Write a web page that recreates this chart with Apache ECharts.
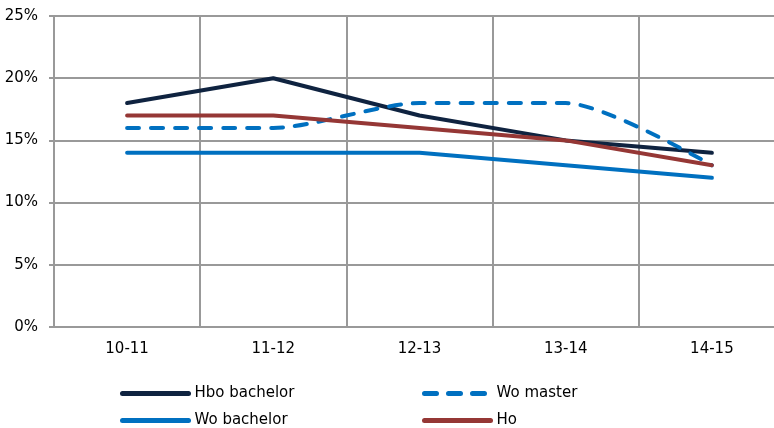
<!DOCTYPE html>
<html>
<head>
<meta charset="utf-8">
<script src="https://cdn.jsdelivr.net/npm/echarts@6/dist/echarts.min.js"></script>
<style>
  html, body { margin: 0; padding: 0; background: #fff; overflow: hidden; }
  #chart { width: 785px; height: 428px; }
</style>
</head>
<body>
<div id="chart"></div>
<script>
// Academic years on the x axis
const years = ['10-11', '11-12', '12-13', '13-14', '14-15'];
// Percentages per programme type
const hboBachelor = [18, 20, 17, 15, 14];
const woMaster = [16, 16, 18, 18, 13];
const woBachelor = [14, 14, 14, 13, 12];
const ho = [17, 17, 16, 15, 13];

const FONT = 'DejaVu Sans';
const GRID = '#999999';

const chart = echarts.init(document.getElementById('chart'));

function lineSeries(name, data, color, dashed, smooth) {
  return {
    name: name,
    type: 'line',
    data: data,
    symbol: 'none',
    smooth: smooth,
    lineStyle: { color: color, width: 4, type: dashed ? [12, 12] : 'solid', cap: 'round', join: 'round' },
    itemStyle: { color: color },
    z: 3
  };
}

// one legend block per entry, laid out in two columns
function legendItem(name, left, top) {
  return {
    data: [name],
    left: left,
    top: top,
    itemWidth: 66,
    itemHeight: 10,
    itemGap: 0,
    padding: 0,
    itemStyle: { opacity: 0 },
    lineStyle: { width: 5, cap: 'round' },
    textStyle: { fontFamily: FONT, fontSize: 15, color: '#000', padding: [0, 0, 0, 1] }
  };
}

chart.setOption({
  animation: false,
  grid: { left: 54, top: 16, right: 0, bottom: 101, containLabel: false },
  legend: [
    legendItem('Hbo bachelor', 120, 386),
    legendItem('Wo bachelor', 120, 413),
    legendItem('Wo master', 422, 386),
    legendItem('Ho', 422, 413)
  ],
  xAxis: {
    type: 'category',
    data: years,
    boundaryGap: true,
    axisLine: { lineStyle: { color: GRID, width: 2 } },
    axisTick: { show: false },
    axisLabel: { fontFamily: FONT, fontSize: 15, color: '#000', margin: 15 },
    splitLine: { show: true, lineStyle: { color: GRID, width: 2 } }
  },
  yAxis: {
    type: 'value',
    min: 0,
    max: 25,
    interval: 5,
    axisLine: { show: true, lineStyle: { color: GRID, width: 2 } },
    axisTick: { show: true, length: 5, inside: false, lineStyle: { color: GRID, width: 2 } },
    axisLabel: { fontFamily: FONT, fontSize: 15, color: '#000', margin: 16, formatter: '{value}%' },
    splitLine: { show: true, lineStyle: { color: GRID, width: 2 } }
  },
  series: [
    lineSeries('Hbo bachelor', hboBachelor, '#0f2340', false, false),
    lineSeries('Wo master', woMaster, '#0070c0', true, 0.25),
    lineSeries('Wo bachelor', woBachelor, '#0070c0', false, false),
    lineSeries('Ho', ho, '#953735', false, false)
  ]
});
</script>
</body>
</html>
